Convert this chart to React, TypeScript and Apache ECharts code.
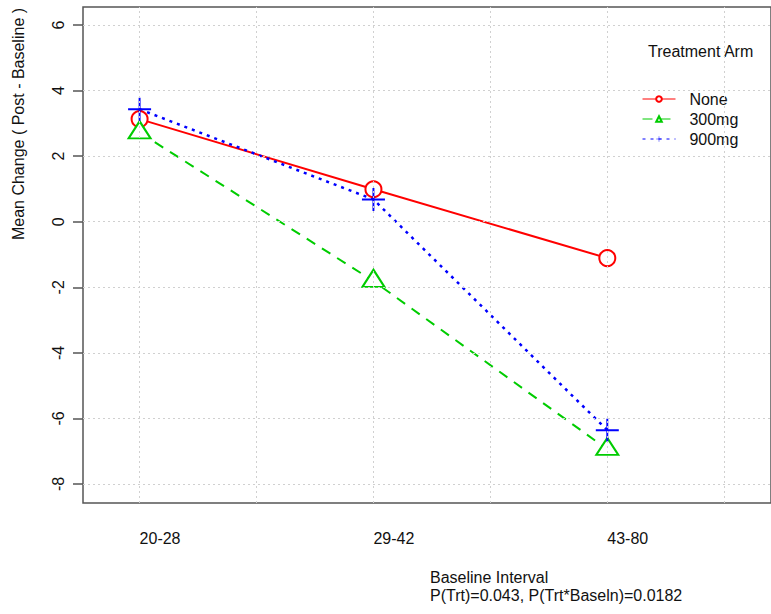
import React, { useEffect, useRef } from "react";
import * as echarts from "echarts";

const intervals = ["20-28", "29-42", "43-80"];
const xPos = [1, 2, 3];
const noneValues = [3.13, 0.99, -1.11];
const mg300Values = [2.72, -1.81, -6.94];
const mg900Values = [3.43, 0.68, -6.36];
const seriesNames = ["None", "300mg", "900mg"];
const yTicks = [-8, -6, -4, -2, 0, 2, 4, 6];
const xGrid = [1, 1.5, 2, 2.5, 3, 3.5];

const FONT = "'Liberation Sans', Arial, sans-serif";
const PLUS = "path://M11,0 H13 V11 H24 V13 H13 V24 H11 V13 H0 V11 H11 Z";

export default function App() {
  const ref = useRef<HTMLDivElement>(null);
  useEffect(() => {
    if (!ref.current) return;
    const chart = echarts.init(ref.current, null, { renderer: "svg" });
    const pair = (vals: number[]) => xPos.map((x, i) => [x, vals[i]]);
    chart.setOption({
      animation: false,
      backgroundColor: "#ffffff",
      textStyle: { fontFamily: FONT },
      grid: {
        left: 83,
        top: 7,
        width: 692,
        height: 496,
        show: true,
        borderColor: "#555555",
        borderWidth: 1.5,
        backgroundColor: "transparent",
      },
      xAxis: {
        type: "value",
        min: 0.758,
        max: 3.7,
        axisLine: { show: false },
        axisTick: { show: false },
        splitLine: { show: false },
        axisLabel: {
          customValues: xPos,
          formatter: (v: number) => intervals[Math.round(v) - 1] ?? "",
          align: "left",
          margin: 27,
          fontSize: 16,
          color: "#111",
          fontFamily: FONT,
        },
      },
      yAxis: {
        type: "value",
        min: -8.58,
        max: 6.55,
        axisLine: { show: false },
        splitLine: { show: false },
        axisTick: {
          show: true,
          customValues: yTicks,
          length: 10,
          lineStyle: { color: "#555555", width: 1.5 },
        },
        axisLabel: {
          customValues: yTicks,
          rotate: 90,
          margin: 17,
          fontSize: 16,
          color: "#111",
          fontFamily: FONT,
        },
      },
      legend: {
        data: seriesNames,
        orient: "vertical",
        left: 637,
        top: 86,
        itemWidth: 33,
        itemHeight: 7,
        itemGap: 4,
        formatter: (n: string) => "  " + n,
        textStyle: { fontSize: 16, color: "#111", fontFamily: FONT },
        lineStyle: { width: 1 },
        itemStyle: { borderWidth: 1 },
      },
      graphic: [
        {
          type: "text",
          x: 18,
          y: 124,
          rotation: Math.PI / 2,
          style: {
            text: "Mean Change ( Post - Baseline )",
            fontSize: 16,
            fontFamily: FONT,
            fill: "#111",
            align: "center",
            verticalAlign: "middle",
          },
        },
        {
          type: "text",
          x: 648,
          y: 51,
          style: {
            text: "Treatment Arm",
            fontSize: 16,
            fontFamily: FONT,
            fill: "#111",
            align: "left",
            verticalAlign: "middle",
          },
        },
        {
          type: "text",
          x: 430,
          y: 577,
          style: {
            text: "Baseline Interval",
            fontSize: 16,
            fontFamily: FONT,
            fill: "#111",
            align: "left",
            verticalAlign: "middle",
          },
        },
        {
          type: "text",
          x: 430,
          y: 595,
          style: {
            text: "P(Trt)=0.043, P(Trt*Baseln)=0.0182",
            fontSize: 16,
            fontFamily: FONT,
            fill: "#111",
            align: "left",
            verticalAlign: "middle",
          },
        },
      ],
      series: [
        {
          name: "_grid",
          type: "line",
          data: [],
          z: 0,
          silent: true,
          markLine: {
            silent: true,
            symbol: ["none", "none"],
            label: { show: false },
            animation: false,
            lineStyle: { color: "#d0d0d0", type: [2, 3], width: 1 },
            emphasis: { disabled: true },
            data: [
              ...xGrid.map((v) => ({ xAxis: v })),
              ...yTicks.map((v) => ({ yAxis: v })),
            ],
          },
        },
        {
          name: "None",
          type: "line",
          data: pair(noneValues),
          color: "#ff0000",
          symbol: "emptyCircle",
          symbolSize: 16,
          lineStyle: { color: "#ff0000", width: 2, type: "solid" },
          itemStyle: { color: "#ff0000", borderColor: "#ff0000", borderWidth: 2 },
          z: 3,
        },
        {
          name: "300mg",
          type: "line",
          data: pair(mg300Values),
          color: "#00cc00",
          symbol: "emptyTriangle",
          symbolSize: [22, 17],
          symbolOffset: [0, -2.8],
          lineStyle: { color: "#00cc00", width: 2, type: [10, 8] },
          itemStyle: { color: "#00cc00", borderColor: "#00cc00", borderWidth: 2 },
          z: 3,
        },
        {
          name: "900mg",
          type: "line",
          data: pair(mg900Values),
          color: "#0000ff",
          symbol: PLUS,
          symbolSize: 23,
          lineStyle: { color: "#0000ff", width: 2.5, type: [3, 5] },
          itemStyle: { color: "#0000ff" },
          z: 3,
        },
      ],
    });
    return () => chart.dispose();
  }, []);
  return (
    <div
      ref={ref}
      style={{ position: "fixed", left: 0, top: 0, width: 771, height: 614, background: "#fff" }}
    />
  );
}
